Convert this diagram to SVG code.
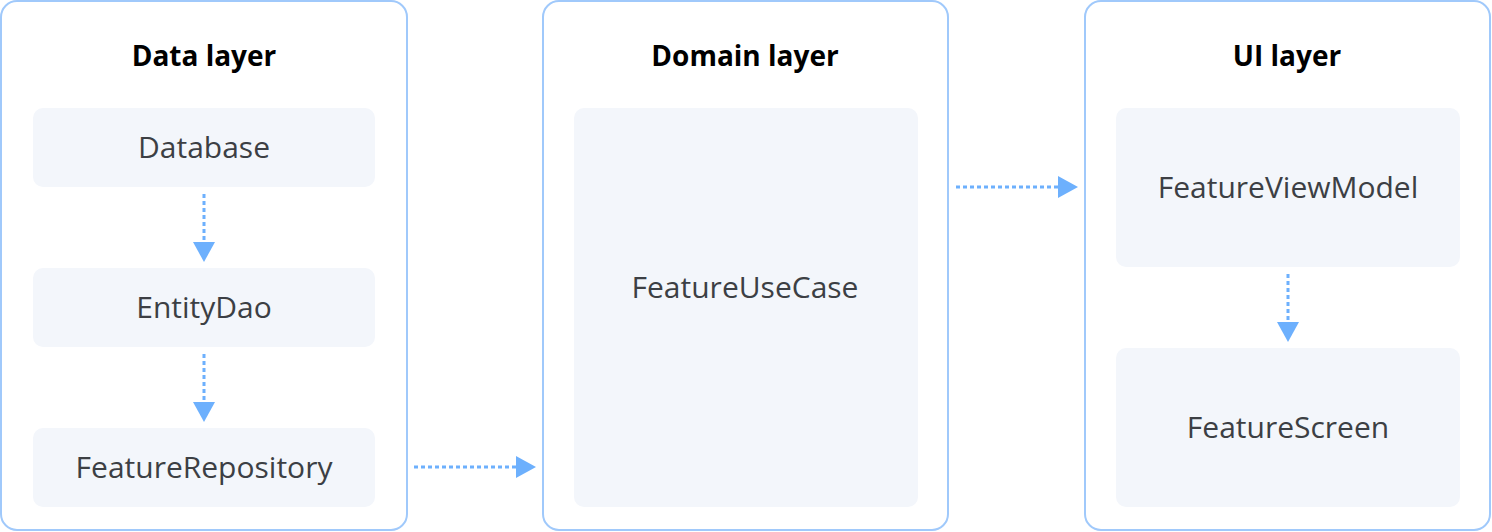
<svg xmlns="http://www.w3.org/2000/svg" width="1492" height="532" viewBox="0 0 1492 532">
<style>
.layer{fill:#ffffff;stroke:#a0c9fb;stroke-width:2}
.node{fill:#f3f6fb}
.title{font-family:"Open Sans","Liberation Sans",sans-serif;font-weight:700;font-size:28px;fill:#000000;text-anchor:middle}
.label{font-family:"Open Sans","Liberation Sans",sans-serif;font-size:30px;fill:#3c3f44;text-anchor:middle}
.conn{stroke:#6db0fd;stroke-width:3;stroke-dasharray:4 3;fill:none}
.head{fill:#6db0fd}
</style>
<rect width="1492" height="532" fill="#ffffff"/>
<g id="data-layer">
<rect class="layer" x="1" y="1" width="406" height="529" rx="16"/>
<text class="title" x="204" y="66">Data layer</text>
</g>
<g id="database">
<rect class="node" x="33" y="108" width="342" height="79" rx="10"/>
<text class="label" x="204" y="158">Database</text>
</g>
<g id="entitydao">
<rect class="node" x="33" y="268" width="342" height="79" rx="10"/>
<text class="label" x="204" y="318">EntityDao</text>
</g>
<g id="featurerepository">
<rect class="node" x="33" y="428" width="342" height="79" rx="10"/>
<text class="label" x="204" y="478">FeatureRepository</text>
</g>
<g id="domain-layer">
<rect class="layer" x="543" y="1" width="405" height="529" rx="16"/>
<text class="title" x="745" y="66">Domain layer</text>
</g>
<g id="featureusecase">
<rect class="node" x="574" y="108" width="344" height="399" rx="10"/>
<text class="label" x="745" y="298">FeatureUseCase</text>
</g>
<g id="ui-layer">
<rect class="layer" x="1085" y="1" width="405" height="529" rx="16"/>
<text class="title" x="1287" y="66">UI layer</text>
</g>
<g id="featureviewmodel">
<rect class="node" x="1116" y="108" width="344" height="159" rx="10"/>
<text class="label" x="1288" y="198">FeatureViewModel</text>
</g>
<g id="featurescreen">
<rect class="node" x="1116" y="348" width="344" height="159" rx="10"/>
<text class="label" x="1288" y="438">FeatureScreen</text>
</g>
<g id="connectors">
<line class="conn" x1="204" y1="194" x2="204" y2="242"/>
<polygon class="head" points="193,242 215,242 204,262"/>
<line class="conn" x1="204" y1="354" x2="204" y2="402"/>
<polygon class="head" points="193,402 215,402 204,422"/>
<line class="conn" x1="1288" y1="274" x2="1288" y2="322"/>
<polygon class="head" points="1277,322 1299,322 1288,342"/>
<line class="conn" x1="414" y1="467" x2="516" y2="467"/>
<polygon class="head" points="516,456 516,478 536,467"/>
<line class="conn" x1="956" y1="187" x2="1058" y2="187"/>
<polygon class="head" points="1058,176 1058,198 1078,187"/>
</g>
</svg>
